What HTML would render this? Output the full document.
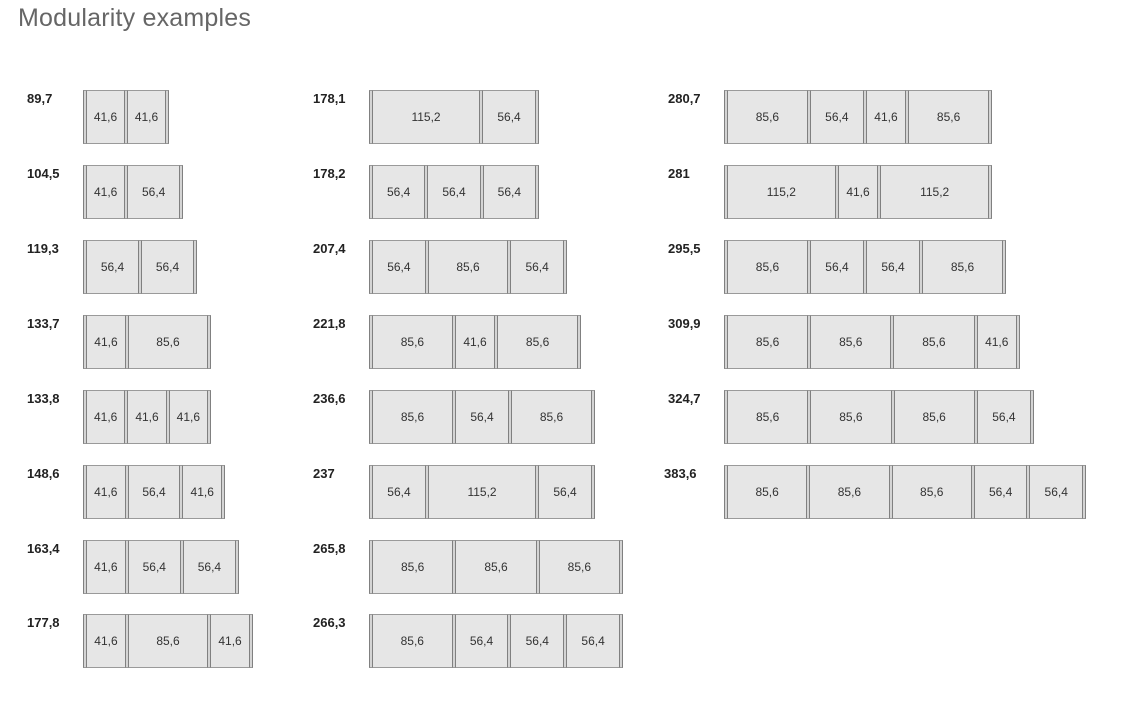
<!DOCTYPE html>
<html><head><meta charset="utf-8"><style>
body{margin:0;width:1134px;height:719px;background:#fff;position:relative;overflow:hidden;font-family:"Liberation Sans",Arial,sans-serif;}
h1{position:absolute;left:18px;top:4px;margin:0;font-weight:normal;font-size:25px;color:#666;letter-spacing:0.2px}
.l{position:absolute;font-weight:bold;font-size:13px;color:#222}
.b{position:absolute;height:54px;display:flex;box-sizing:border-box}
.p{width:4px;flex:none;box-sizing:border-box;border-left:1px solid #808080;border-right:1px solid #808080;background:#d4d4d4;border-top:1px solid #999;border-bottom:1px solid #999}
.m{background:#e6e6e6;border-top:1px solid #9a9a9a;border-bottom:1px solid #9a9a9a;display:flex;align-items:center;justify-content:center;font-size:12px;color:#333;box-sizing:border-box;min-width:0}
</style></head><body>
<h1>Modularity examples</h1>

<div class="l" style="left:27px;top:91px">89,7</div>
<div class="b" style="left:83px;top:90px;width:86px"><div class="p"></div><div class="m" style="flex:41.6">41,6</div><div class="p"></div><div class="m" style="flex:41.6">41,6</div><div class="p"></div></div>
<div class="l" style="left:27px;top:166px">104,5</div>
<div class="b" style="left:83px;top:165px;width:100px"><div class="p"></div><div class="m" style="flex:41.6">41,6</div><div class="p"></div><div class="m" style="flex:56.4">56,4</div><div class="p"></div></div>
<div class="l" style="left:27px;top:241px">119,3</div>
<div class="b" style="left:83px;top:240px;width:114px"><div class="p"></div><div class="m" style="flex:56.4">56,4</div><div class="p"></div><div class="m" style="flex:56.4">56,4</div><div class="p"></div></div>
<div class="l" style="left:27px;top:316px">133,7</div>
<div class="b" style="left:83px;top:315px;width:128px"><div class="p"></div><div class="m" style="flex:41.6">41,6</div><div class="p"></div><div class="m" style="flex:85.6">85,6</div><div class="p"></div></div>
<div class="l" style="left:27px;top:391px">133,8</div>
<div class="b" style="left:83px;top:390px;width:128px"><div class="p"></div><div class="m" style="flex:41.6">41,6</div><div class="p"></div><div class="m" style="flex:41.6">41,6</div><div class="p"></div><div class="m" style="flex:41.6">41,6</div><div class="p"></div></div>
<div class="l" style="left:27px;top:466px">148,6</div>
<div class="b" style="left:83px;top:465px;width:142px"><div class="p"></div><div class="m" style="flex:41.6">41,6</div><div class="p"></div><div class="m" style="flex:56.4">56,4</div><div class="p"></div><div class="m" style="flex:41.6">41,6</div><div class="p"></div></div>
<div class="l" style="left:27px;top:541px">163,4</div>
<div class="b" style="left:83px;top:540px;width:156px"><div class="p"></div><div class="m" style="flex:41.6">41,6</div><div class="p"></div><div class="m" style="flex:56.4">56,4</div><div class="p"></div><div class="m" style="flex:56.4">56,4</div><div class="p"></div></div>
<div class="l" style="left:27px;top:615px">177,8</div>
<div class="b" style="left:83px;top:614px;width:170px"><div class="p"></div><div class="m" style="flex:41.6">41,6</div><div class="p"></div><div class="m" style="flex:85.6">85,6</div><div class="p"></div><div class="m" style="flex:41.6">41,6</div><div class="p"></div></div>

<div class="l" style="left:313px;top:91px">178,1</div>
<div class="b" style="left:369px;top:90px;width:170px"><div class="p"></div><div class="m" style="flex:115.2">115,2</div><div class="p"></div><div class="m" style="flex:56.4">56,4</div><div class="p"></div></div>
<div class="l" style="left:313px;top:166px">178,2</div>
<div class="b" style="left:369px;top:165px;width:170px"><div class="p"></div><div class="m" style="flex:56.4">56,4</div><div class="p"></div><div class="m" style="flex:56.4">56,4</div><div class="p"></div><div class="m" style="flex:56.4">56,4</div><div class="p"></div></div>
<div class="l" style="left:313px;top:241px">207,4</div>
<div class="b" style="left:369px;top:240px;width:198px"><div class="p"></div><div class="m" style="flex:56.4">56,4</div><div class="p"></div><div class="m" style="flex:85.6">85,6</div><div class="p"></div><div class="m" style="flex:56.4">56,4</div><div class="p"></div></div>
<div class="l" style="left:313px;top:316px">221,8</div>
<div class="b" style="left:369px;top:315px;width:212px"><div class="p"></div><div class="m" style="flex:85.6">85,6</div><div class="p"></div><div class="m" style="flex:41.6">41,6</div><div class="p"></div><div class="m" style="flex:85.6">85,6</div><div class="p"></div></div>
<div class="l" style="left:313px;top:391px">236,6</div>
<div class="b" style="left:369px;top:390px;width:226px"><div class="p"></div><div class="m" style="flex:85.6">85,6</div><div class="p"></div><div class="m" style="flex:56.4">56,4</div><div class="p"></div><div class="m" style="flex:85.6">85,6</div><div class="p"></div></div>
<div class="l" style="left:313px;top:466px">237</div>
<div class="b" style="left:369px;top:465px;width:226px"><div class="p"></div><div class="m" style="flex:56.4">56,4</div><div class="p"></div><div class="m" style="flex:115.2">115,2</div><div class="p"></div><div class="m" style="flex:56.4">56,4</div><div class="p"></div></div>
<div class="l" style="left:313px;top:541px">265,8</div>
<div class="b" style="left:369px;top:540px;width:254px"><div class="p"></div><div class="m" style="flex:85.6">85,6</div><div class="p"></div><div class="m" style="flex:85.6">85,6</div><div class="p"></div><div class="m" style="flex:85.6">85,6</div><div class="p"></div></div>
<div class="l" style="left:313px;top:615px">266,3</div>
<div class="b" style="left:369px;top:614px;width:254px"><div class="p"></div><div class="m" style="flex:85.6">85,6</div><div class="p"></div><div class="m" style="flex:56.4">56,4</div><div class="p"></div><div class="m" style="flex:56.4">56,4</div><div class="p"></div><div class="m" style="flex:56.4">56,4</div><div class="p"></div></div>

<div class="l" style="left:668px;top:91px">280,7</div>
<div class="b" style="left:724px;top:90px;width:268px"><div class="p"></div><div class="m" style="flex:85.6">85,6</div><div class="p"></div><div class="m" style="flex:56.4">56,4</div><div class="p"></div><div class="m" style="flex:41.6">41,6</div><div class="p"></div><div class="m" style="flex:85.6">85,6</div><div class="p"></div></div>
<div class="l" style="left:668px;top:166px">281</div>
<div class="b" style="left:724px;top:165px;width:268px"><div class="p"></div><div class="m" style="flex:115.2">115,2</div><div class="p"></div><div class="m" style="flex:41.6">41,6</div><div class="p"></div><div class="m" style="flex:115.2">115,2</div><div class="p"></div></div>
<div class="l" style="left:668px;top:241px">295,5</div>
<div class="b" style="left:724px;top:240px;width:282px"><div class="p"></div><div class="m" style="flex:85.6">85,6</div><div class="p"></div><div class="m" style="flex:56.4">56,4</div><div class="p"></div><div class="m" style="flex:56.4">56,4</div><div class="p"></div><div class="m" style="flex:85.6">85,6</div><div class="p"></div></div>
<div class="l" style="left:668px;top:316px">309,9</div>
<div class="b" style="left:724px;top:315px;width:296px"><div class="p"></div><div class="m" style="flex:85.6">85,6</div><div class="p"></div><div class="m" style="flex:85.6">85,6</div><div class="p"></div><div class="m" style="flex:85.6">85,6</div><div class="p"></div><div class="m" style="flex:41.6">41,6</div><div class="p"></div></div>
<div class="l" style="left:668px;top:391px">324,7</div>
<div class="b" style="left:724px;top:390px;width:310px"><div class="p"></div><div class="m" style="flex:85.6">85,6</div><div class="p"></div><div class="m" style="flex:85.6">85,6</div><div class="p"></div><div class="m" style="flex:85.6">85,6</div><div class="p"></div><div class="m" style="flex:56.4">56,4</div><div class="p"></div></div>
<div class="l" style="left:664px;top:466px">383,6</div>
<div class="b" style="left:724px;top:465px;width:362px"><div class="p"></div><div class="m" style="flex:85.6">85,6</div><div class="p"></div><div class="m" style="flex:85.6">85,6</div><div class="p"></div><div class="m" style="flex:85.6">85,6</div><div class="p"></div><div class="m" style="flex:56.4">56,4</div><div class="p"></div><div class="m" style="flex:56.4">56,4</div><div class="p"></div></div>
</body></html>
